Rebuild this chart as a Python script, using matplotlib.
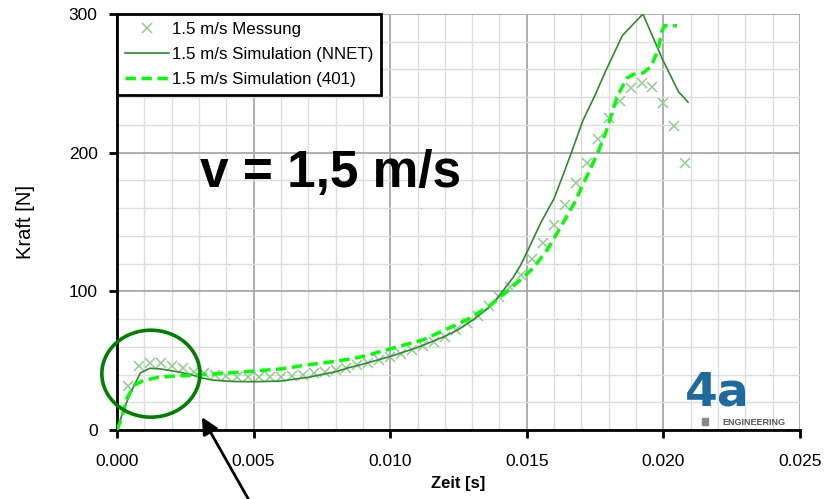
import numpy as np
import matplotlib.pyplot as plt
from matplotlib.patches import Ellipse, Rectangle
from matplotlib.ticker import MultipleLocator, FormatStrFormatter

plt.rcParams['font.family'] = ['Liberation Sans', 'DejaVu Sans']

# measurement (time in ms, force in N)
t_mess = [0.4, 0.8, 1.2, 1.6, 2.0, 2.4, 2.8, 3.2, 3.6, 4.0, 4.4, 4.8, 5.2, 5.6,
          6.0, 6.4, 6.8, 7.2, 7.6, 8.0, 8.4, 8.8, 9.2, 9.6, 10.0, 10.4, 10.8,
          11.2, 11.6, 12.0, 12.4, 12.8, 13.2, 13.6, 14.0, 14.4, 14.8, 15.2,
          15.6, 16.0, 16.4, 16.8, 17.2, 17.6, 18.0, 18.4, 18.8, 19.2, 19.6,
          20.0, 20.4, 20.8]
f_mess = [31.7, 46, 48.5, 48.5, 46, 44.5, 42, 41, 40, 39, 38.5, 38.5, 38.5, 38.5,
          38.5, 39, 40, 41, 42, 43.5, 45, 47, 48.5, 50.5, 52.5, 54.5, 57.5,
          60.5, 63.5, 67, 72, 77.5, 82.5, 89.5, 96, 103, 112, 123,
          134.5, 147.5, 162, 178, 192.5, 209.5, 225, 237.5, 246.5, 250.5, 247,
          236, 219, 192.5]

# simulation NNET
t_nnet = [0, 0.25, 0.5, 0.85, 1.2, 1.6, 2.2, 2.7, 3.1, 3.5, 4.2, 5.0, 6.0, 7.0,
          8.0, 8.5, 9.0, 10.0, 11.0, 12.0, 12.5, 13.0, 13.6, 14.0, 14.5, 14.75,
          15.05, 15.5, 16.0, 16.35, 16.65, 17.05, 17.5, 17.9, 18.5, 19.25,
          19.6, 19.95, 20.25, 20.55, 20.9]
f_nnet = [0, 15, 27, 41, 44.5, 44, 42, 40, 37.5, 36, 35, 34.8, 35.3, 38,
          42, 45, 47.5, 53, 59.5, 67.5, 72.5, 79, 88, 97, 110, 118,
          130, 149, 167, 185, 201, 223, 241.5, 259.5, 284.5, 300,
          284, 268, 256, 244, 236.5]

# simulation 401
t_401 = [0, 0.17, 0.35, 0.65, 0.95, 1.5, 2.2, 3.0, 4.0, 5.0, 6.0, 7.0, 8.0, 8.6,
         9.0, 10.0, 11.2, 12.4, 12.9, 13.6, 14.25, 14.75, 15.25, 15.75, 16.2,
         16.75, 17.2, 17.6, 17.9, 18.3, 18.65, 18.9, 19.25, 19.55, 19.8, 19.95,
         20.05, 20.5]
f_401 = [0, 8.5, 22.5, 32.5, 35.5, 38, 39, 39.7, 41, 42.5, 44, 47, 49.5, 51.5,
         53, 58.5, 65, 75.7, 80.5, 89, 99.5, 108, 117, 130, 145,
         164, 183, 200, 215, 240, 253.5, 256.5, 257.5, 262, 274, 288,
         291.5, 291.5]

fig = plt.figure(figsize=(8.31, 4.99), dpi=100)
ax = fig.add_axes([0.1408, 0.1383, 0.8219, 0.8337])

ax.plot(np.array(t_mess) / 1000, f_mess, 'x', color='#93cc93', markersize=7,
        markeredgewidth=1.1, label='1.5 m/s Messung', zorder=3)
ax.plot(np.array(t_nnet) / 1000, f_nnet, '-', color='#2e8b2e', linewidth=1.2,
        label='1.5 m/s Simulation (NNET)', zorder=4)
ax.plot(np.array(t_401) / 1000, f_401, '--', color='#00ff00', linewidth=2.5,
        dashes=(3, 1.6), label='1.5 m/s Simulation (401)', zorder=5)

ax.set_xlim(0, 0.025)
ax.set_ylim(0, 300)
ax.xaxis.set_major_locator(MultipleLocator(0.005))
ax.xaxis.set_minor_locator(MultipleLocator(0.001))
ax.yaxis.set_major_locator(MultipleLocator(100))
ax.yaxis.set_minor_locator(MultipleLocator(20))
ax.xaxis.set_major_formatter(FormatStrFormatter('%.3f'))
ax.grid(which='major', color='#a8a8a8', linewidth=1.3)
ax.grid(which='minor', color='#dddddd', linewidth=1.0)
ax.set_axisbelow(True)
ax.tick_params(which='major', length=6, width=2, labelsize=12.5)
ax.tick_params(axis='x', which='major', pad=11)
ax.tick_params(axis='y', which='major', pad=8)
ax.tick_params(which='minor', length=0)
for s in ['top', 'right']:
    ax.spines[s].set_visible(False)
for s in ['left', 'bottom']:
    ax.spines[s].set_linewidth(2)

ax.set_xlabel('Zeit [s]', fontsize=12, fontweight='bold', labelpad=5)
ax.set_ylabel('Kraft [N]', fontsize=14.5, labelpad=24)

leg = ax.legend(loc='upper left', borderaxespad=0, fontsize=12.2, fancybox=False,
                framealpha=1, edgecolor='black', handlelength=2.6,
                handletextpad=0.2, borderpad=0.45, labelspacing=0.6)
leg.get_frame().set_linewidth(2)
leg.set_zorder(10)

ax.text(0.00302, 175, 'v = 1,5 m/s', fontsize=37, fontweight='bold',
        ha='left', va='baseline')

# highlight circle and arrow
ell = Ellipse((0.00124, 40.6), 0.00359, 62.7, fill=False, edgecolor='#008000',
              linewidth=2.6, clip_on=False, zorder=6)
ax.add_patch(ell)
ax.annotate('', xy=(0.00306, 11), xycoords='data',
            xytext=(251.7, -6), textcoords='figure pixels',
            arrowprops=dict(arrowstyle='-|>,head_length=1.0,head_width=0.5',
                            color='black', linewidth=2),
            annotation_clip=False)

# logo
ax.text(0.02196, 18, '4a', fontsize=34, fontweight='bold', family='DejaVu Sans',
        color='#1e6a9c', ha='center', va='baseline')
ax.add_patch(Rectangle((0.02140, 3.5), 0.00023, 5, color='#888888', zorder=3))
ax.text(0.02332, 3.5, 'ENGINEERING', fontsize=6.5, fontweight='bold',
        color='#555555', ha='center', va='baseline')

fig.savefig('out.png', dpi=100)
